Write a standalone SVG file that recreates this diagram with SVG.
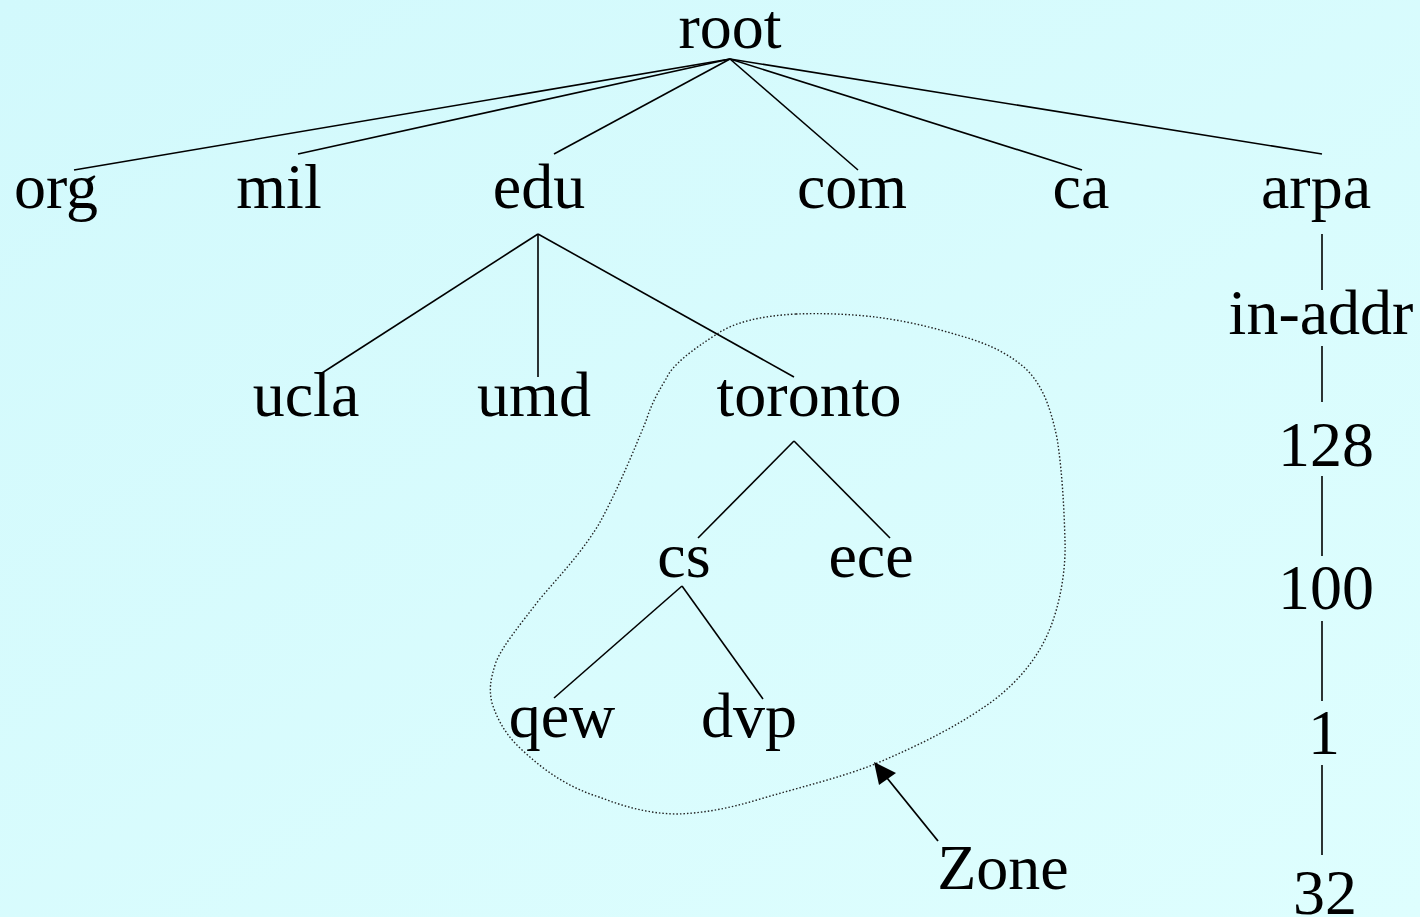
<svg xmlns="http://www.w3.org/2000/svg" width="1420" height="917" viewBox="0 0 1420 917">
<defs>
<linearGradient id="bg" x1="0" y1="0" x2="1" y2="1">
<stop offset="0" stop-color="#D2F9FC"/>
<stop offset="1" stop-color="#DEFEFE"/>
</linearGradient>
<style>
text{font-family:"Liberation Serif","Times New Roman",serif;font-size:64px;fill:#000;text-anchor:middle}
.e{stroke:#000;stroke-width:1.6;fill:none}
.zone{stroke:#222;stroke-width:1.4;fill:none;stroke-dasharray:1.5 2}
</style>
</defs>
<rect width="1420" height="917" fill="url(#bg)"/>
<g id="connectors">
<line class="e" x1="730" y1="59" x2="74" y2="170"/>
<line class="e" x1="730" y1="59" x2="298" y2="154"/>
<line class="e" x1="730" y1="59" x2="554" y2="154"/>
<line class="e" x1="730" y1="59" x2="858" y2="170"/>
<line class="e" x1="730" y1="59" x2="1082" y2="170"/>
<line class="e" x1="730" y1="59" x2="1322" y2="154"/>
<line class="e" x1="538" y1="234" x2="322" y2="373"/>
<line class="e" x1="538" y1="234" x2="538" y2="377"/>
<line class="e" x1="538" y1="234" x2="794" y2="377"/>
<line class="e" x1="794" y1="441" x2="698" y2="538"/>
<line class="e" x1="794" y1="441" x2="890" y2="538"/>
<line class="e" x1="682" y1="586" x2="554" y2="698"/>
<line class="e" x1="682" y1="586" x2="763" y2="699"/>
<line class="e" x1="1322" y1="234" x2="1322" y2="290"/>
<line class="e" x1="1322" y1="346" x2="1322" y2="402"/>
<line class="e" x1="1322" y1="476" x2="1322" y2="556"/>
<line class="e" x1="1322" y1="621" x2="1322" y2="701"/>
<line class="e" x1="1322" y1="765" x2="1322" y2="855"/>
<path class="zone" d="M796,314 C760,316 735,322 717,334 C692,350 672,365 666,379 C656,395 650,408 646,421 C630,460 615,495 599,524 C580,555 560,575 539,600 C520,625 503,645 496,662 C490,680 489,690 492,703 C498,722 508,737 520,748 C545,772 570,788 599,797 C625,807 650,814 678,814 C705,813 730,808 757,800 C800,787 840,778 875,764 C920,745 960,725 994,700 C1020,680 1038,657 1049,631 C1060,605 1066,570 1065,541 C1064,505 1062,470 1057,438 C1050,405 1042,385 1026,369 C1005,350 980,341 954,334 C928,326 900,320 875,317 C850,314 820,313 796,314 Z"/>
<line stroke="#000" stroke-width="1.8" x1="938" y1="841" x2="883" y2="773"/>
<path d="M874,762 L896,773 L879,785 Z" fill="#000"/>
</g>
<g id="n-root"><text x="730" y="48">root</text></g>
<g id="n-org"><text x="56" y="208">org</text></g>
<g id="n-mil"><text x="279" y="208">mil</text></g>
<g id="n-edu"><text x="539" y="208">edu</text></g>
<g id="n-com"><text x="852" y="208">com</text></g>
<g id="n-ca"><text x="1081" y="208">ca</text></g>
<g id="n-arpa"><text x="1316" y="208">arpa</text></g>
<g id="n-ucla"><text x="306" y="416">ucla</text></g>
<g id="n-umd"><text x="534" y="416">umd</text></g>
<g id="n-toronto"><text x="809" y="416">toronto</text></g>
<g id="n-cs"><text x="684" y="577">cs</text></g>
<g id="n-ece"><text x="871" y="577">ece</text></g>
<g id="n-qew"><text x="562" y="737">qew</text></g>
<g id="n-dvp"><text x="749" y="737">dvp</text></g>
<g id="n-in-addr"><text x="1321" y="334">in-addr</text></g>
<g id="n-128"><text x="1326" y="466">128</text></g>
<g id="n-100"><text x="1326" y="609">100</text></g>
<g id="n-1"><text x="1324" y="754">1</text></g>
<g id="n-32"><text x="1325" y="914">32</text></g>
<g id="n-zone"><text x="1003" y="889">Zone</text></g>
</svg>
